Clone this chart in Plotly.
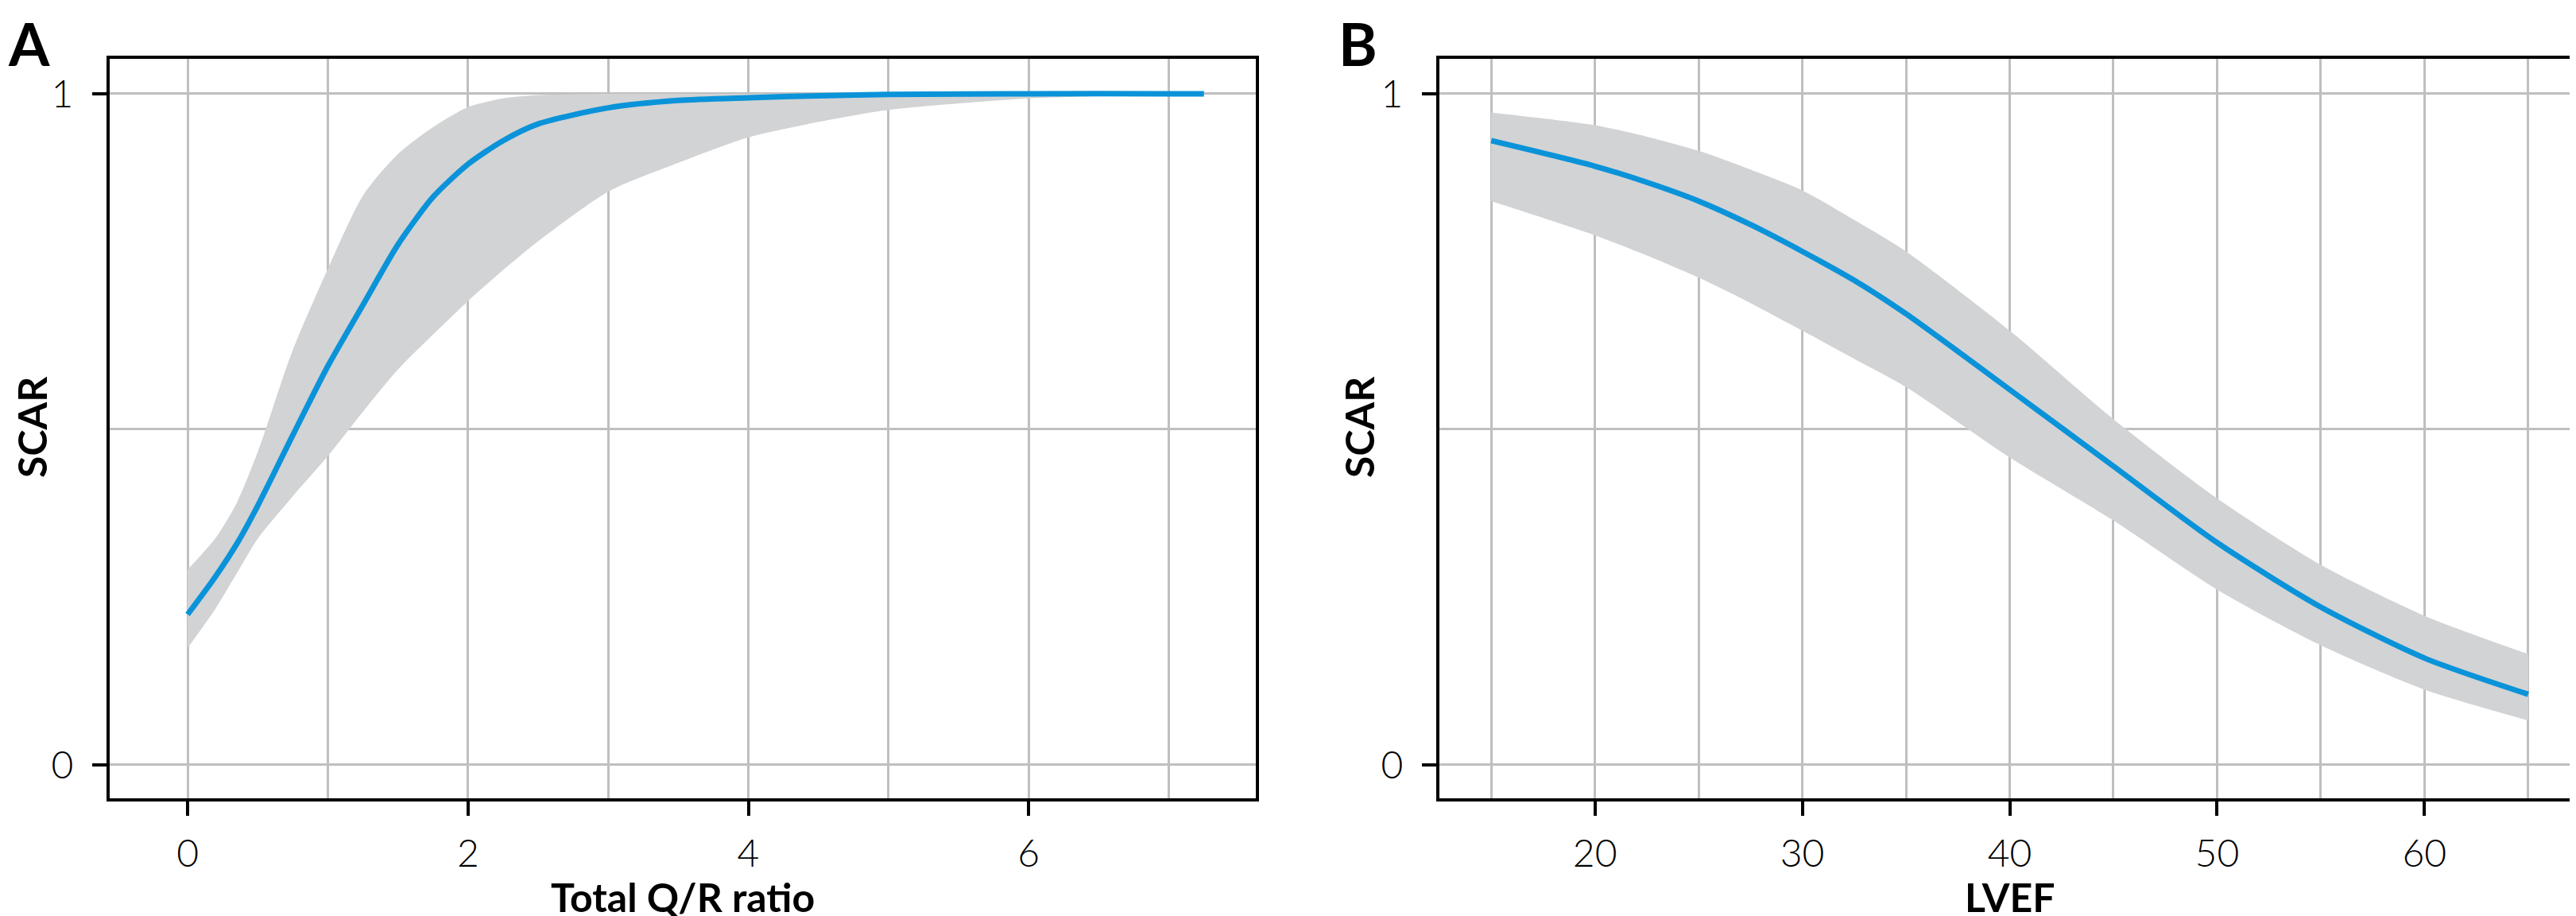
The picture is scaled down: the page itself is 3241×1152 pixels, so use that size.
import plotly.graph_objects as go

# ---------------- Panel A data (Total Q/R ratio) ----------------
a_x = [0.0, 0.2, 0.35, 0.5, 0.75, 1.0, 1.25, 1.5, 1.75, 2.0, 2.25, 2.5, 3.0, 3.5, 4.0, 4.5, 5.0, 6.0, 7.0, 7.25]
a_fit = [0.224, 0.281, 0.329, 0.386, 0.491, 0.594, 0.685, 0.775, 0.846, 0.895, 0.930, 0.955, 0.979, 0.990, 0.994, 0.997, 0.999, 1.0, 1.0, 1.0]
a_upper = [0.291, 0.338, 0.390, 0.466, 0.618, 0.739, 0.848, 0.910, 0.950, 0.980, 0.993, 0.998, 1.0, 1.0, 1.0, 1.0, 1.0, 1.0, 1.0, 1.0]
a_lower = [0.174, 0.233, 0.285, 0.337, 0.400, 0.460, 0.526, 0.589, 0.641, 0.691, 0.737, 0.780, 0.854, 0.897, 0.935, 0.958, 0.976, 0.993, 0.998, 0.999]

# ---------------- Panel B data (LVEF) ----------------
b_x = [15, 20, 22.5, 25, 27.5, 30, 32.5, 35, 40, 45, 50, 55, 60, 65]
b_fit = [0.930, 0.892, 0.868, 0.840, 0.805, 0.765, 0.722, 0.672, 0.559, 0.445, 0.331, 0.235, 0.159, 0.105]
b_upper = [0.972, 0.953, 0.936, 0.915, 0.887, 0.856, 0.812, 0.765, 0.647, 0.515, 0.397, 0.298, 0.222, 0.165]
b_lower = [0.840, 0.789, 0.759, 0.726, 0.688, 0.647, 0.605, 0.563, 0.458, 0.364, 0.261, 0.178, 0.112, 0.066]

a_ticks = [0, 2, 4, 6]
b_ticks = [20, 30, 40, 50, 60]
y_ticks = [0, 1]

W, H = 3241, 1152
BLUE = "#0a93d9"
BAND = "#d2d3d5"
GRID = "#bfbfc1"
FONT = "Liberation Sans Narrow, Lato, sans-serif"

fig = go.Figure()

def add_panel(x, fit, lo, hi, xa, ya):
    fig.add_trace(go.Scatter(x=x, y=hi, mode="lines", line=dict(width=0, shape="spline", smoothing=0.7),
                             xaxis=xa, yaxis=ya, showlegend=False, hoverinfo="skip"))
    fig.add_trace(go.Scatter(x=x, y=lo, mode="lines", line=dict(width=0, shape="spline", smoothing=0.7),
                             fill="tonexty", fillcolor=BAND,
                             xaxis=xa, yaxis=ya, showlegend=False, hoverinfo="skip"))
    fig.add_trace(go.Scatter(x=x, y=fit, mode="lines", line=dict(color=BLUE, width=7, shape="spline", smoothing=0.7),
                             xaxis=xa, yaxis=ya, showlegend=False))

add_panel(a_x, a_fit, a_lower, a_upper, "x", "y")
add_panel(b_x, b_fit, b_lower, b_upper, "x2", "y2")

ydom = [1 - 996 / H, 1 - 66 / H]
axis_common = dict(
    showline=True, linecolor="black", linewidth=4, mirror=True,
    ticks="outside", ticklen=18, tickwidth=4, tickcolor="black",
    showgrid=True, gridcolor=GRID, gridwidth=3, zeroline=False,
    tickfont=dict(family=FONT, size=48, color="black", weight=300),
)

fig.update_layout(
    width=W, height=H,
    margin=dict(l=0, r=0, t=0, b=0),
    paper_bgcolor="white", plot_bgcolor="white",
    xaxis=dict(domain=[130 / W, 1572 / W], range=[-0.556, 7.62], tickmode="array", tickvals=a_ticks,
               minor=dict(dtick=1, tick0=0, showgrid=True, gridcolor=GRID, gridwidth=3, ticks=""),
               ticklabelstandoff=6, anchor="y", **axis_common),
    yaxis=dict(domain=ydom, range=[-0.05, 1.052], tickmode="array", tickvals=y_ticks,
               minor=dict(dtick=0.5, tick0=0, showgrid=True, gridcolor=GRID, gridwidth=3, ticks=""),
               ticklabelstandoff=14, anchor="x", **axis_common),
    xaxis2=dict(domain=[1803 / W, 3238 / W], range=[12.5, 67.5], tickmode="array", tickvals=b_ticks,
                minor=dict(dtick=5, tick0=0, showgrid=True, gridcolor=GRID, gridwidth=3, ticks=""),
                ticklabelstandoff=6, anchor="y2", **axis_common),
    yaxis2=dict(domain=ydom, range=[-0.05, 1.052], tickmode="array", tickvals=y_ticks,
                minor=dict(dtick=0.5, tick0=0, showgrid=True, gridcolor=GRID, gridwidth=3, ticks=""),
                ticklabelstandoff=14, anchor="x2", **axis_common),
)

title_font = dict(family=FONT, size=50, color="black", weight="bold")
label_font = dict(family=FONT, size=74, color="black", weight="bold")
ann = [
    dict(text="A", x=0 / W, y=1, xanchor="left", yanchor="top", font=label_font),
    dict(text="B", x=1674 / W, y=1, xanchor="left", yanchor="top", font=label_font),
    dict(text="Total Q/R ratio", x=851 / W, y=0, xanchor="center", yanchor="bottom", font=title_font),
    dict(text="LVEF", x=2520 / W, y=0, xanchor="center", yanchor="bottom", font=title_font),
    dict(text="SCAR", x=0 / W, y=1 - 529 / H, xanchor="left", yanchor="middle", textangle=-90, font=title_font),
    dict(text="SCAR", x=1670 / W, y=1 - 529 / H, xanchor="left", yanchor="middle", textangle=-90, font=title_font),
]
for a in ann:
    a.update(xref="paper", yref="paper", showarrow=False)
fig.update_layout(annotations=ann)

fig.write_html("out.html")
